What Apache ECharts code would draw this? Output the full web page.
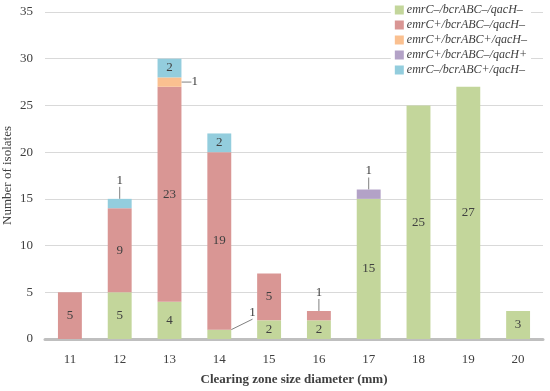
<!DOCTYPE html>
<html>
<head>
<meta charset="utf-8">
<script src="https://cdn.jsdelivr.net/npm/echarts@6/dist/echarts.min.js"></script>
<style>html,body{margin:0;padding:0;background:#fff}#c{width:550px;height:391px}</style>
</head>
<body>
<div id="c"></div>
<script>
var categories = ['11','12','13','14','15','16','17','18','19','20'];
var seriesNames = ['emrC–/bcrABC–/qacH–','emrC+/bcrABC–/qacH–','emrC+/bcrABC+/qacH–','emrC+/bcrABC–/qacH+','emrC–/bcrABC+/qacH–'];
var green  = [0, 5, 4, 1, 2, 2, 15, 25, 27, 3];
var red    = [5, 9, 23, 19, 5, 1, 0, 0, 0, 0];
var orange = [0, 0, 1, 0, 0, 0, 0, 0, 0, 0];
var purple = [0, 0, 0, 0, 0, 0, 1, 0, 0, 0];
var blue   = [0, 1, 2, 2, 0, 0, 0, 0, 0, 0];
var yTicks = [0, 5, 10, 15, 20, 25, 30, 35];

var colors = ['#c3d69b','#d99694','#fac090','#b3a2c7','#93cddd'];
var all = [green, red, orange, purple, blue];
var FONT = 'Liberation Serif';
var TXT = '#404040';

function isTop(si, di) {
  for (var k = si + 1; k < all.length; k++) if (all[k][di]) return false;
  return true;
}

var series = all.map(function (arr, si) {
  return {
    name: seriesNames[si],
    type: 'bar',
    stack: 'a',
    barWidth: '48%',
    itemStyle: { color: colors[si] },
    label: { show: true, position: 'inside', color: TXT, fontFamily: FONT, fontSize: 13 },
    labelLine: { show: false, lineStyle: { color: '#808080', width: 1 } },
    labelLayout: function (p) {
      var v = all[p.seriesIndex][p.dataIndex];
      if (v !== 1) return {};
      var r = p.rect;
      if (isTop(p.seriesIndex, p.dataIndex)) {
        return { x: r.x + r.width / 2, y: r.y - 12, align: 'center', verticalAlign: 'bottom' };
      }
      if (p.seriesIndex === 0) {
        return { x: r.x + r.width + 18, y: r.y - 17, align: 'left', verticalAlign: 'middle' };
      }
      return { x: r.x + r.width + 10, y: r.y + r.height / 2, align: 'left', verticalAlign: 'middle' };
    },
    data: arr.map(function (v, di) {
      if (!v) return { value: null, label: { show: false } };
      if (v === 1) return { value: v, labelLine: { show: true } };
      return v;
    })
  };
});

var chart = echarts.init(document.getElementById('c'), null, { renderer: 'canvas' });
chart.setOption({
  animation: false,
  backgroundColor: '#fff',
  grid: { left: 45, right: 7, top: 12, bottom: 52, containLabel: false, outerBoundsMode: 'none' },
  legend: {
    orient: 'vertical',
    right: 19,
    top: 3,
    itemWidth: 9,
    itemHeight: 9,
    itemGap: 3,
    icon: 'rect',
    backgroundColor: '#fff',
    padding: [1, 4, 1, 4],
    textStyle: { fontFamily: FONT, fontStyle: 'italic', fontSize: 12, color: TXT, padding: [0, 0, 0, -2] },
    data: seriesNames
  },
  xAxis: {
    type: 'category',
    data: categories,
    name: 'Clearing zone size diameter (mm)',
    nameLocation: 'middle',
    nameGap: 34,
    nameTextStyle: { fontFamily: FONT, fontSize: 13, fontWeight: 'bold', color: TXT },
    axisLine: { show: true, lineStyle: { color: '#bfbfbf', width: 3 } },
    axisTick: { show: false },
    axisLabel: { fontFamily: FONT, fontSize: 13, color: TXT, margin: 14 }
  },
  yAxis: {
    type: 'value',
    min: yTicks[0],
    max: yTicks[yTicks.length - 1],
    interval: yTicks[1] - yTicks[0],
    name: 'Number of isolates',
    nameLocation: 'middle',
    nameGap: 31,
    nameMoveOverlap: false,
    nameTextStyle: { fontFamily: FONT, fontSize: 13, color: TXT },
    axisLine: { show: false },
    axisTick: { show: false },
    axisLabel: { fontFamily: FONT, fontSize: 13, color: TXT, margin: 12 },
    splitLine: { lineStyle: { color: '#d9d9d9', width: 1 } }
  },
  series: series
});
</script>
</body>
</html>
